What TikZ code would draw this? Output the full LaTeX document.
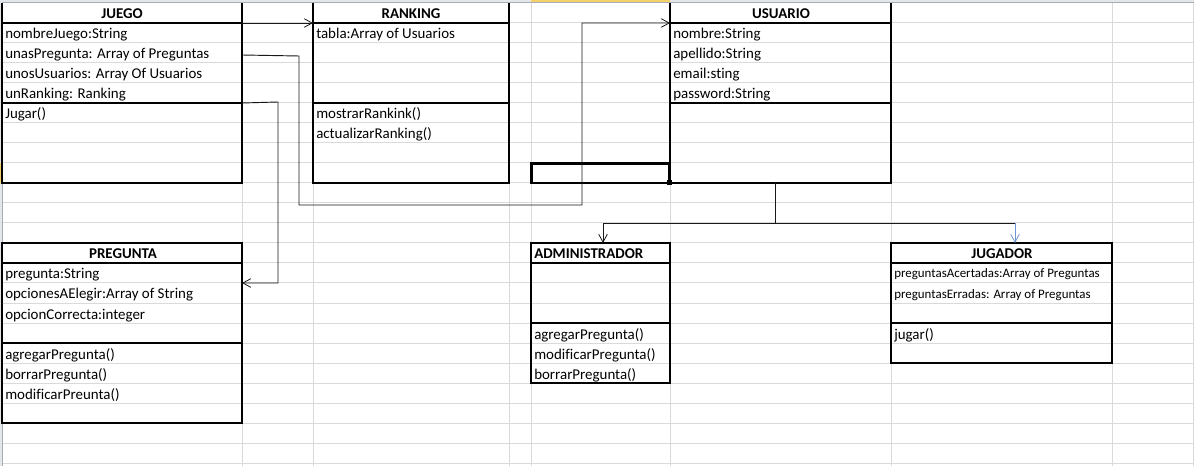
\documentclass[tikz,border=0pt]{standalone}
\usepackage{fontspec}
\setmainfont[Ligatures={NoCommon}]{Carlito}
\usetikzlibrary{arrows.meta}
\definecolor{gridc}{HTML}{DADADA}
\definecolor{hdrc}{HTML}{E3E6EB}
\definecolor{hdrline}{HTML}{A8ADB5}
\definecolor{selc}{HTML}{F5CF6A}
\definecolor{bluec}{HTML}{6F97D2}
\begin{document}
\begin{tikzpicture}[x=0.75pt,y=-0.75pt,
  cls/.style={draw=black,line width=0.8pt,inner sep=0pt,outer sep=0pt,anchor=north west},
  clsopen/.style={inner sep=0pt,outer sep=0pt,anchor=north west},
  box/.style={line width=0.8pt},
  txt/.style={anchor=base west,inner sep=0pt,font=\fontsize{11.2}{13}\selectfont},
  stxt/.style={anchor=base west,inner sep=0pt,font=\fontsize{9.7}{11}\selectfont},
  hdr/.style={anchor=base,inner sep=0pt,font=\fontsize{11.2}{13}\selectfont\bfseries},
  conn/.style={draw=black!90,line width=0.7pt},
  arr/.style={conn,-{Straight Barb[length=6pt,width=6.5pt,line width=0.6pt]}}]
\useasboundingbox (0,0) rectangle (1194,466);
% spreadsheet grid
\fill[white] (0,0) rectangle (1194,466);
\foreach \y in {23,43,...,463} \draw[gridc,line width=0.75pt] (2,\y) -- (1194,\y);
\foreach \x in {242,313,509,531,670,891,1112,1193} \draw[gridc,line width=0.75pt] (\x,3) -- (\x,466);
\fill[hdrc] (0,0) rectangle (1194,3);
\fill[hdrc] (0,0) rectangle (2,466);
\fill[selc] (531,0) rectangle (670,3);
\fill[selc] (0,163) rectangle (2,183);
\draw[hdrline,line width=0.75pt] (2,3) -- (1194,3);
\draw[hdrline,line width=0.75pt] (2,3) -- (2,466);

% ---------- JUEGO ----------
\node[clsopen,minimum width=180pt,minimum height=135pt] (juego) at (2,3) {};
\draw[box] (juego.north west) -- (juego.south west) -- (juego.south east) -- (juego.north east);
\draw[box] ([yshift=-15pt]juego.north west) -- ([yshift=-15pt]juego.north east);
\draw[box] ([yshift=-75pt]juego.north west) -- ([yshift=-75pt]juego.north east);
\node[hdr] (juegoh) at (122,19) {JUEGO};
\node[txt] (j1) at (5,39) {nombreJuego:String};
\node[txt] (j2) at (5,59) {unasPregunta: Array of Preguntas};
\node[txt] (j3) at (5,79) {unosUsuarios: Array Of Usuarios};
\node[txt] (j4) at (5,99) {unRanking: Ranking};
\node[txt] (j5) at (5,119) {Jugar()};

% ---------- RANKING ----------
\node[clsopen,minimum width=147pt,minimum height=135pt] (ranking) at (313,3) {};
\draw[box] (ranking.north west) -- (ranking.south west) -- (ranking.south east) -- (ranking.north east);
\draw[box] ([yshift=-15pt]ranking.north west) -- ([yshift=-15pt]ranking.north east);
\draw[box] ([yshift=-75pt]ranking.north west) -- ([yshift=-75pt]ranking.north east);
\node[hdr] (rankingh) at (411,19) {RANKING};
\node[txt] (r1) at (316,39) {tabla:Array of Usuarios};
\node[txt] (r2) at (316,119) {mostrarRankink()};
\node[txt] (r3) at (316,139) {actualizarRanking()};

% ---------- USUARIO ----------
\node[clsopen,minimum width=165.75pt,minimum height=135pt] (usuario) at (670,3) {};
\draw[box] (usuario.north west) -- (usuario.south west) -- (usuario.south east) -- (usuario.north east);
\draw[box] ([yshift=-15pt]usuario.north west) -- ([yshift=-15pt]usuario.north east);
\draw[box] ([yshift=-75pt]usuario.north west) -- ([yshift=-75pt]usuario.north east);
\node[hdr] (usuarioh) at (781,19) {USUARIO};
\node[txt] (u1) at (673,39) {nombre:String};
\node[txt] (u2) at (673,59) {apellido:String};
\node[txt] (u3) at (673,79) {email:sting};
\node[txt] (u4) at (673,99) {password:String};

% ---------- PREGUNTA ----------
\node[cls,minimum width=180pt,minimum height=135pt] (pregunta) at (2,243) {};
\draw[box] ([yshift=-15pt]pregunta.north west) -- ([yshift=-15pt]pregunta.north east);
\draw[box] ([yshift=-75pt]pregunta.north west) -- ([yshift=-75pt]pregunta.north east);
\node[hdr] (preguntah) at (123,259) {PREGUNTA};
\node[txt] (p1) at (5,279) {pregunta:String};
\node[txt] (p2) at (5,299) {opcionesAElegir:Array of String};
\node[txt] (p3) at (5,319) {opcionCorrecta:integer};
\node[txt] (p4) at (5,359) {agregarPregunta()};
\node[txt] (p5) at (5,379) {borrarPregunta()};
\node[txt] (p6) at (5,399) {modificarPreunta()};

% ---------- ADMINISTRADOR ----------
\node[cls,minimum width=104.25pt,minimum height=105pt] (admin) at (531,243) {};
\draw[box] ([yshift=-15pt]admin.north west) -- ([yshift=-15pt]admin.north east);
\draw[box] ([yshift=-60pt]admin.north west) -- ([yshift=-60pt]admin.north east);
\node[hdr,anchor=base west] (adminh) at (534,259) {ADMINISTRADOR};
\node[txt] (a1) at (534,339) {agregarPregunta()};
\node[txt] (a2) at (534,359) {modificarPregunta()};
\node[txt] (a3) at (534,379) {borrarPregunta()};

% ---------- JUGADOR ----------
\node[cls,minimum width=165.75pt,minimum height=90pt] (jugador) at (891,243) {};
\draw[box] ([yshift=-15pt]jugador.north west) -- ([yshift=-15pt]jugador.north east);
\draw[box] ([yshift=-60pt]jugador.north west) -- ([yshift=-60pt]jugador.north east);
\node[hdr] (jugadorh) at (1002,259) {JUGADOR};
\node[stxt] (g1) at (894,278) {preguntasAcertadas:Array of Preguntas};
\node[stxt] (g2) at (894,298) {preguntasErradas: Array of Preguntas};
\node[txt] (g3) at (894,339) {jugar()};

% ---------- selected cell ----------
\node[draw=black,line width=1.6pt,inner sep=0pt,outer sep=0pt,minimum width=103.5pt,minimum height=14.5pt,anchor=north west] (selcell) at (531.5,163.5) {};
\fill[black] ([xshift=-2pt,yshift=-2pt]selcell.south east) rectangle ([xshift=2pt,yshift=2pt]selcell.south east);

% ---------- connectors ----------
\draw[arr] ([yshift=-15pt]juego.north east) -- ([yshift=-15pt]ranking.north west);
\coordinate (c2a) at (299,56);
\coordinate (c2b) at (299,205);
\coordinate (c2c) at (582,205);
\coordinate (c2d) at (582,23);
\draw[arr] ([yshift=-39pt]juego.north east) -- (c2a) -- (c2b) -- (c2c) -- (c2d) -- ([yshift=-15pt]usuario.north west);
\coordinate (c3a) at (278,102);
\coordinate (c3b) at (278,283);
\draw[arr] ([yshift=-75pt]juego.north east) -- (c3a) -- (c3b) -- ([yshift=-30pt]pregunta.north east);
\coordinate (c4a) at (775,223);
\coordinate (c4l) at (603,223);
\coordinate (c4r) at (1015,223);
\draw[conn] (usuario.south -| c4a) -- (c4a);
\draw[conn] (c4l) -- (c4r);
\draw[arr] (c4l) -- (c4l |- admin.north);
\draw[arr,draw=bluec] (c4r) -- (c4r |- jugador.north);
\end{tikzpicture}
\end{document}
